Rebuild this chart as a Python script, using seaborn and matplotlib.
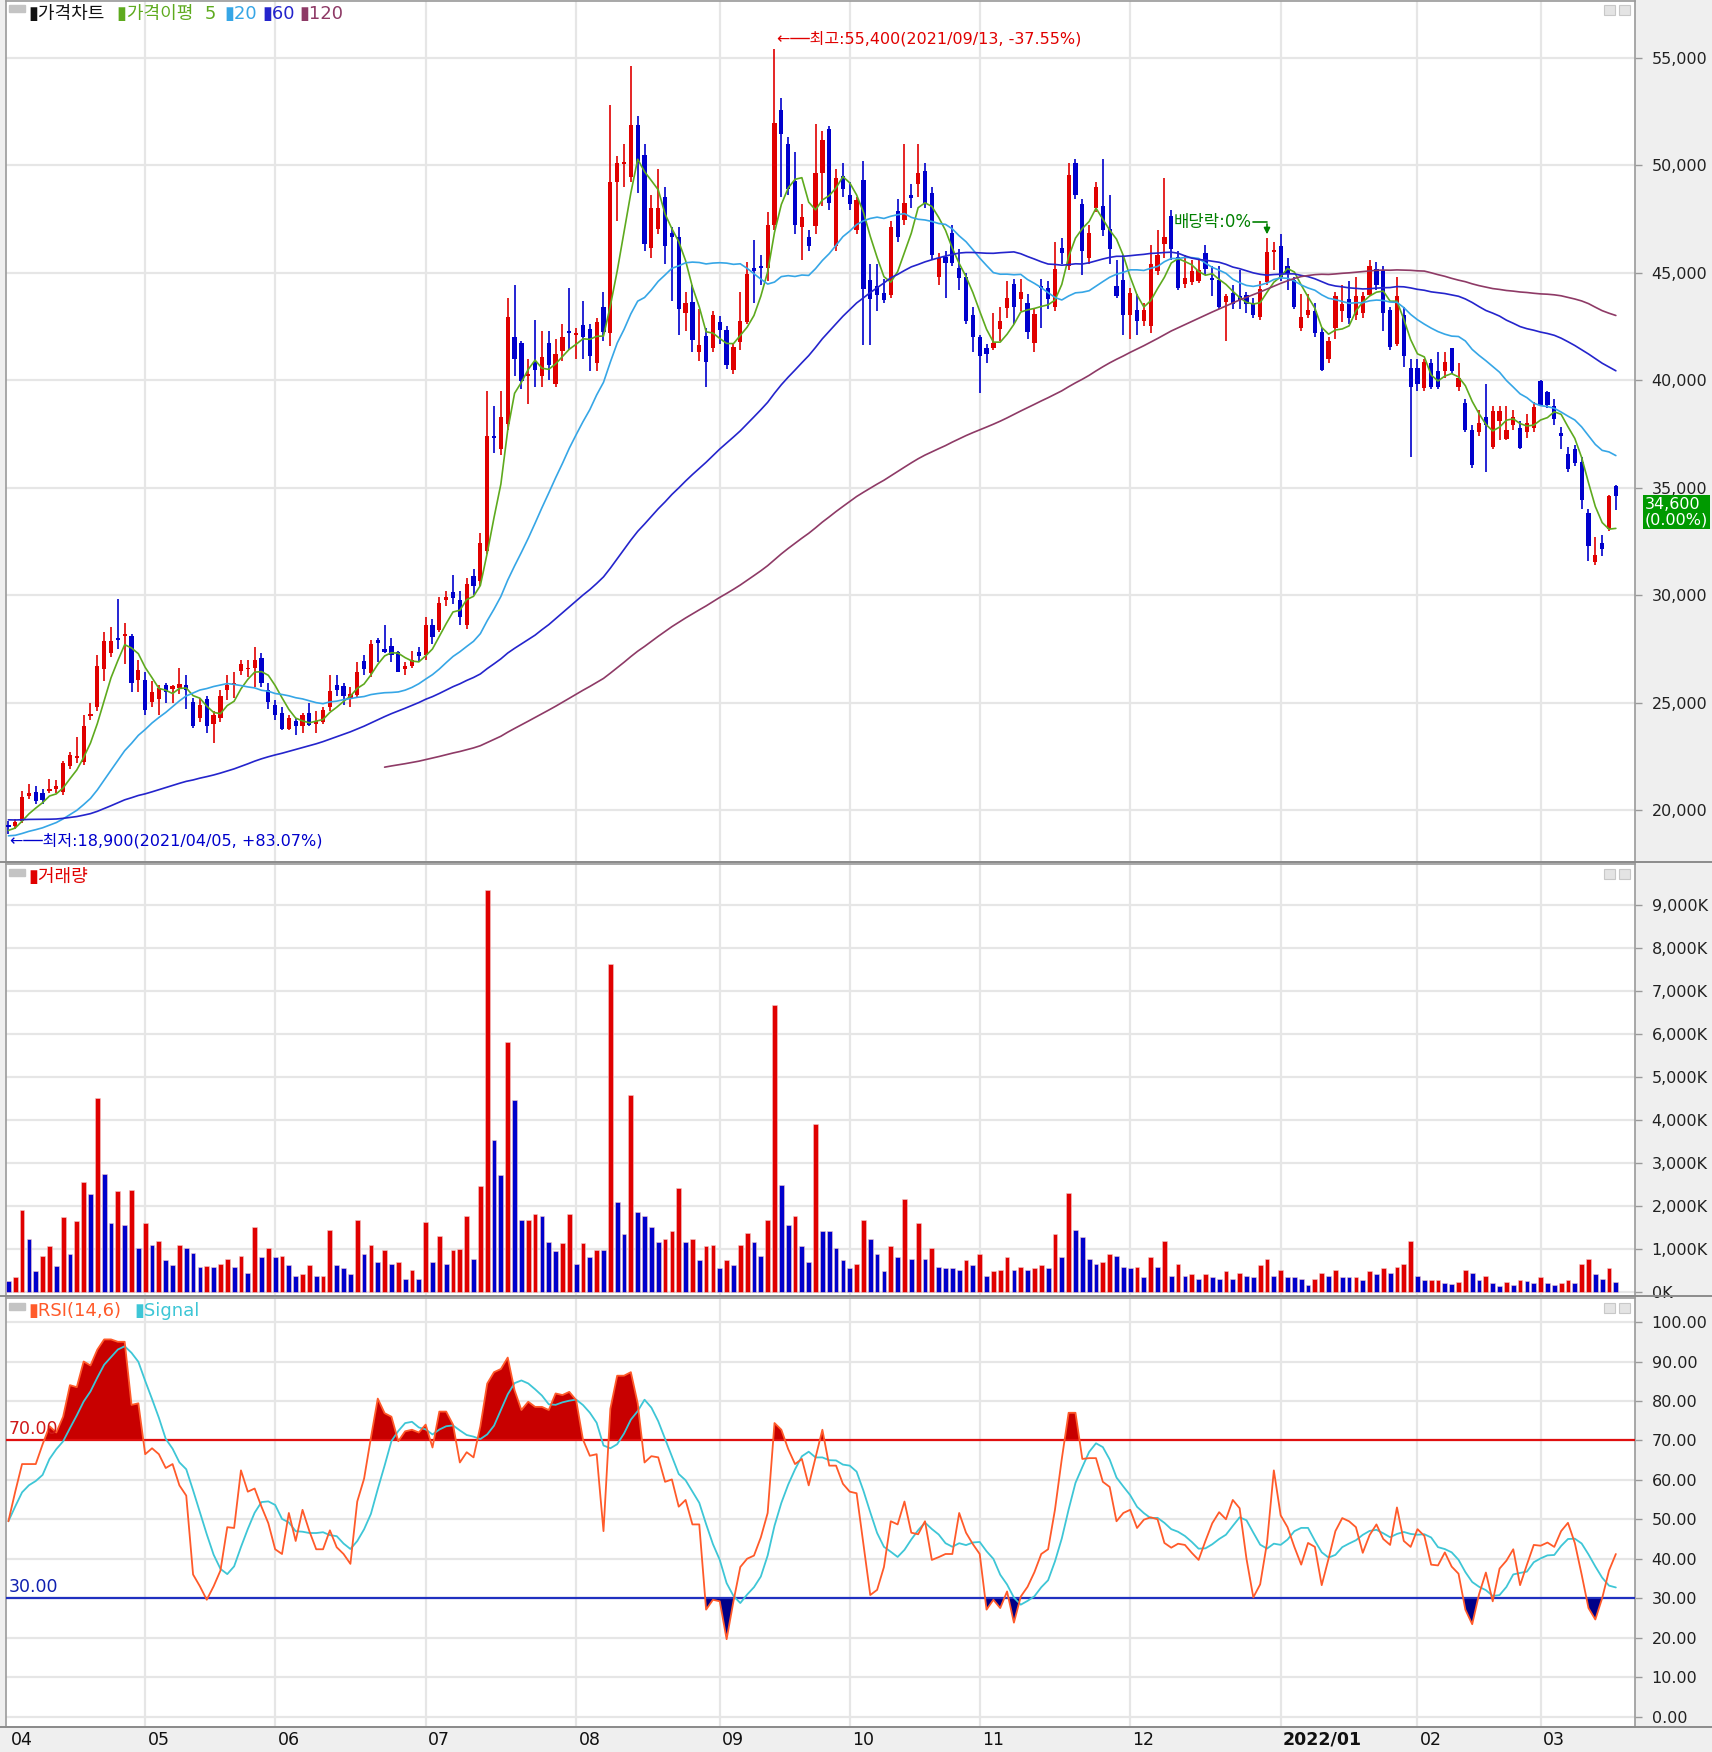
import numpy as np
import pandas as pd
import matplotlib
matplotlib.use("Agg")
import matplotlib.pyplot as plt
import matplotlib.transforms as mtransforms
from matplotlib.patches import Rectangle
import seaborn as sns

#### DATA ####
# KRX trading days, 2021/04/05 - 2022/03/18
holidays = ["2021-05-05", "2021-05-19", "2021-08-16", "2021-09-20", "2021-09-21",
            "2021-09-22", "2021-10-04", "2021-10-11", "2021-12-31", "2022-01-31",
            "2022-02-01", "2022-02-02", "2022-03-01", "2022-03-09"]
dates = pd.bdate_range("2021-04-05", "2022-03-18", freq="C", holidays=holidays)

# closes before the visible window (only used to warm up the moving averages)
prior_close = [20300, 20450, 20200, 20000, 20150, 19900, 19800, 20050, 20250, 20400,
               20600, 20500, 20350, 20100, 19950, 20000, 20200, 20300, 20150, 19900,
               19750, 19850, 20050, 20200, 20100, 19900, 19700, 19600, 19800, 19950,
               20100, 20000, 19850, 19700, 19800, 19950, 20050, 19900, 19750, 19600,
               19500, 19400, 19300, 19250,
               19100, 19000, 18900, 18800, 18850, 18700, 18600, 18650, 18750, 18600,
               18500, 18550, 18700, 18800, 18650, 18700, 18900, 19000, 19100, 19050]

opens = [19300, 19250, 19500, 20650, 20830, 20800, 20900, 21000, 20830, 22050,
         22400, 22250, 24350, 24780, 26570, 27300, 28000, 28100, 28100, 26060,
         26060, 25040, 25170, 25800, 25650, 25680, 25800, 25040, 24270, 25170,
         24020, 24270, 25600, 25850, 26450, 26550, 26620, 27060, 25600, 24900,
         24530, 23760, 24150, 23900, 24530, 24000, 24080, 24780, 25800, 25750,
         25170, 25340, 26950, 26360, 27900, 27480, 27640, 27330, 26550, 26700,
         27330, 27200, 28600, 28350, 29780, 30140, 29750, 28600, 30900, 30650,
         32050, 37400, 36770, 37960, 41990, 41740, 40200, 40850, 40210, 41740,
         39830, 41360, 42300, 42100, 42560, 42380, 40800, 43400, 42170, 49200,
         50050, 49460, 51860, 50460, 46130, 47020, 48500, 46840, 46640, 43100,
         43650, 41300, 42070, 41480, 42690, 42330, 40470, 41750, 42690, 45200,
         45300, 45230, 47220, 52580, 50990, 49260, 47100, 46640, 47170, 49640,
         51680, 46250, 49470, 48630, 46970, 49310, 44670, 44370, 44040, 43960,
         47860, 47430, 48630, 49130, 49720, 48700, 44800, 45740, 46840, 45230,
         44800, 43010, 41990, 41480, 41480, 42380, 43350, 44470, 43780, 43600,
         41740, 44370, 44290, 43400, 46150, 45310, 50080, 48190, 45690, 47990,
         48120, 47020, 44370, 44670, 43010, 43270, 42760, 42500, 45060, 46330,
         47610, 45740, 44470, 44550, 44620, 45900, 44730, 44670, 43650, 44040,
         43900, 43960, 43600, 42940, 44550, 45970, 46250, 45310, 44670, 42430,
         43020, 43190, 42250, 40980, 42430, 43190, 43780, 43010, 43140, 43960,
         45180, 45130, 43270, 41660, 43020, 40540, 40540, 39630, 40800, 40400,
         40400, 41490, 39700, 38930, 37660, 37600, 38300, 36900, 38100, 37280,
         37920, 37780, 37580, 37780, 39960, 39450, 38800, 37540, 36560, 36800,
         36210, 33830, 31540, 32430, 33070, 35050]

highs = [19500, 19600, 20900, 21200, 21100, 21000, 21450, 21400, 22300, 22700,
         23400, 24400, 25000, 27200, 28300, 28500, 29800, 28700, 28200, 27000,
         26400, 26000, 25800, 25900, 25800, 26600, 26300, 25200, 25200, 25300,
         24600, 25600, 26300, 26400, 27000, 27000, 27600, 27300, 25900, 25100,
         24800, 24400, 24300, 24500, 25000, 24600, 24800, 26300, 26300, 25900,
         25700, 26900, 27200, 27900, 28000, 28600, 28000, 27400, 26900, 27400,
         27600, 29000, 28900, 29900, 30200, 30950, 30200, 30800, 31200, 32900,
         39500, 38800, 39500, 43800, 44400, 41800, 41000, 42800, 42300, 42300,
         41900, 42600, 44300, 42400, 43700, 42600, 42900, 44100, 52800, 50400,
         51000, 54600, 52300, 51000, 48600, 49800, 49000, 47100, 47100, 44100,
         44400, 43300, 42400, 43200, 43000, 42500, 41700, 44100, 45500, 46500,
         45800, 47800, 55400, 53100, 51300, 50600, 48200, 47000, 51900, 51600,
         51800, 49800, 50100, 49200, 48500, 50200, 45400, 45400, 44700, 47400,
         48400, 51000, 49100, 51000, 50100, 49000, 45900, 46000, 47200, 46100,
         45000, 43400, 42100, 41700, 43100, 43400, 44600, 44700, 44700, 44000,
         43300, 44700, 44600, 46400, 46600, 50100, 50300, 48400, 47200, 49200,
         50300, 48600, 45600, 45800, 44300, 44000, 43600, 46300, 47000, 49400,
         47900, 46000, 45800, 45600, 45600, 46300, 45300, 45300, 44000, 44400,
         45100, 44100, 43800, 44600, 46600, 46400, 46800, 45700, 44800, 44000,
         44000, 43600, 42400, 42000, 44100, 44400, 44600, 44800, 44100, 45600,
         45500, 45300, 43400, 44800, 43400, 41000, 41000, 41000, 41000, 41300,
         41300, 41500, 40800, 39100, 37900, 38600, 39800, 38800, 38800, 38800,
         38600, 38100, 38400, 39000, 40000, 39500, 39100, 37800, 36900, 37000,
         36400, 34000, 32700, 32800, 34650, 35100]

lows = [18900, 19100, 19400, 20500, 20300, 20300, 20800, 20800, 20700, 21900,
        22200, 22100, 24200, 24600, 26000, 27100, 27500, 26800, 25500, 25500,
        24400, 24800, 24400, 25000, 25000, 25400, 24700, 23800, 24100, 23600,
        23100, 24100, 25100, 25200, 26300, 26200, 25700, 25700, 24700, 24200,
        23700, 23700, 23500, 23600, 23900, 23600, 24000, 24600, 25300, 24900,
        24800, 25200, 26300, 26200, 26900, 27300, 26900, 26400, 26300, 26600,
        26900, 27000, 27700, 28300, 29500, 29600, 28600, 28400, 30000, 30400,
        31900, 36600, 36500, 37700, 40200, 39600, 38900, 39700, 39700, 40000,
        39700, 40900, 41400, 41000, 41000, 40400, 40400, 41800, 41600, 47400,
        49000, 49200, 48700, 46000, 45700, 46800, 45400, 43700, 42100, 42300,
        41300, 40900, 39700, 41300, 41700, 40500, 40300, 41400, 42600, 43600,
        44400, 44600, 47000, 48500, 48600, 46800, 45600, 46000, 46800, 48100,
        47900, 46000, 48500, 47900, 46800, 41650, 41650, 43200, 43600, 43800,
        46400, 47200, 48000, 48500, 48000, 45600, 44400, 43800, 45300, 44200,
        42600, 41300, 39400, 40800, 41400, 41800, 42900, 42600, 43200, 41900,
        41300, 42400, 43300, 43200, 45400, 45100, 48400, 44900, 45400, 47800,
        46700, 45400, 43800, 42100, 41900, 42100, 42500, 42200, 44900, 45700,
        45600, 44200, 44300, 44400, 44500, 44900, 43900, 43300, 41800, 43300,
        43300, 43100, 42900, 42800, 44400, 45100, 44600, 44200, 43300, 42300,
        42900, 42000, 40400, 40800, 41900, 42700, 42600, 42800, 42900, 43900,
        44200, 42300, 41400, 41600, 40600, 36400, 39500, 39500, 39600, 39600,
        40100, 40300, 39500, 37600, 35900, 37400, 35700, 36800, 37200, 37200,
        37700, 36800, 37300, 37600, 38800, 38700, 37900, 36800, 35700, 36000,
        34000, 31600, 31400, 31800, 33000, 33950]

closes = [19200, 19450, 20600, 20800, 20400, 20450, 21000, 21100, 22180, 22540,
          22500, 23900, 24450, 26700, 27850, 27850, 27900, 28150, 25930, 26520,
          24660, 25500, 25680, 25500, 25750, 25850, 25600, 23900, 24900, 23900,
          24400, 25300, 25800, 25900, 26780, 26600, 26980, 25930, 25040, 24400,
          23760, 24270, 23900, 24400, 23950, 24150, 24650, 25550, 25600, 25300,
          25400, 26440, 26570, 27720, 27750, 27350, 27200, 26440, 26700, 26960,
          27150, 28600, 28050, 29630, 29900, 29880, 29000, 30520, 30400, 32430,
          37400, 37300, 38300, 42940, 40980, 39960, 40300, 40460, 41050, 40720,
          41230, 41990, 42180, 42200, 42000, 41100, 42690, 42250, 49210, 50080,
          50130, 51860, 50080, 46330, 47990, 47990, 46250, 46640, 43320, 43580,
          41870, 41610, 40850, 43010, 42330, 40720, 41560, 42760, 44930, 45050,
          45200, 47220, 51940, 51430, 48880, 47220, 47600, 46250, 49640, 51170,
          48240, 49390, 48880, 48190, 48370, 44220, 43780, 43960, 43710, 47100,
          46660, 48240, 48450, 49640, 48240, 45820, 45690, 45440, 45440, 44730,
          42760, 41990, 41100, 41230, 41740, 42760, 43830, 43400, 44090, 42250,
          43090, 44290, 43780, 45180, 45900, 49520, 48630, 46000, 46840, 48980,
          46970, 46080, 43900, 43010, 44040, 42760, 43270, 45390, 45820, 46660,
          46080, 44290, 44730, 45050, 45130, 45180, 44650, 43400, 43900, 43530,
          43710, 43530, 43010, 44220, 45950, 46050, 44800, 44930, 43400, 42940,
          43270, 42180, 40460, 41820, 43910, 43520, 42890, 43910, 43910, 45310,
          44420, 43140, 41560, 43910, 41100, 39700, 39830, 40850, 39700, 39700,
          40850, 40400, 40080, 37660, 36050, 37990, 37920, 38550, 38550, 37660,
          38300, 36820, 37990, 38750, 38850, 38860, 38170, 37400, 35870, 36130,
          34420, 32300, 31870, 32130, 34600, 34600]

# volume, thousands of shares
volume_k = [263, 343, 1913, 1235, 486, 845, 1060, 598, 1737, 877,
            1658, 2558, 2280, 4500, 2742, 1594, 2343, 1562, 2375, 1020,
            1594, 1092, 1195, 733, 622, 1092, 1020, 909, 590, 600,
            580, 661, 765, 590, 845, 446, 1522, 805, 1020, 805,
            845, 630, 375, 414, 630, 375, 380, 1450, 630, 558,
            414, 1666, 877, 1092, 701, 988, 661, 701, 303, 518,
            303, 1634, 701, 1307, 661, 988, 1000, 1777, 773, 2455,
            9350, 3531, 2710, 5818, 4468, 1666, 1680, 1809, 1777, 1164,
            948, 1132, 1809, 661, 1132, 805, 988, 980, 7636, 2096,
            1347, 4571, 1849, 1777, 1522, 1164, 1235, 1419, 2423, 1164,
            1235, 733, 1060, 1092, 558, 733, 630, 1092, 1379, 1164,
            845, 1666, 6675, 2487, 1562, 1777, 1060, 701, 3900, 1419,
            1410, 1020, 733, 558, 661, 1666, 1235, 877, 486, 1060,
            805, 2168, 773, 1594, 773, 1020, 590, 558, 550, 518,
            733, 630, 877, 375, 486, 518, 805, 518, 590, 518,
            558, 630, 558, 1347, 805, 2311, 1450, 1275, 773, 661,
            701, 877, 845, 590, 558, 590, 343, 805, 590, 1195,
            375, 661, 375, 414, 303, 414, 343, 303, 486, 303,
            446, 375, 343, 630, 773, 375, 518, 343, 340, 303,
            159, 303, 446, 375, 518, 343, 340, 345, 271, 486,
            414, 558, 446, 590, 661, 1195, 375, 271, 275, 280,
            199, 195, 231, 518, 446, 271, 375, 199, 128, 231,
            159, 271, 265, 199, 343, 199, 159, 199, 271, 199,
            661, 773, 414, 303, 558, 231]

rsi = [49.5, 57, 64, 64, 64, 69, 73.6, 72, 76, 84,
       83.5, 90, 89, 93, 95.6, 95.6, 95, 95, 79, 79.4,
       66.5, 68, 66.5, 63, 64, 58.6, 56, 36, 33, 29.6,
       33, 37, 48, 47.8, 62.4, 57, 57.8, 53.2, 49, 42.4,
       41.2, 51.6, 44.5, 52.4, 47, 42.4, 42.4, 47.2, 42.9, 41.2,
       38.7, 54.5, 60.3, 70.7, 80.6, 76.9, 76, 69.8, 72.3, 72.7,
       72, 74, 68.2, 77.3, 77.3, 74, 64.4, 67, 65.7, 73.6,
       84.4, 87.3, 88.1, 91, 82.7, 77.7, 79.8, 78.5, 78.5, 77.7,
       81.9, 81.5, 82.3, 80.2, 70.2, 66.1, 66.5, 47, 78, 86.4,
       86.4, 87.3, 79.4, 64.4, 66, 65.7, 59.5, 60.1, 53.2, 54.9,
       48.7, 48.7, 27.1, 29.6, 29.2, 19.6, 29.2, 37.9, 40, 40.8,
       45.4, 51.6, 74.4, 72.7, 67.8, 64, 65.3, 58.6, 65.7, 72.7,
       63.6, 63.6, 59, 57, 56.6, 43.7, 30.8, 32.1, 37.9, 49.5,
       48.7, 54.5, 46.6, 46.2, 49.5, 39.7, 40.4, 41.2, 41.2, 51.6,
       46.6, 43.7, 41.2, 27.1, 29.6, 27.5, 31.7, 23.8, 30.4, 32.9,
       36.6, 41.2, 42.4, 52.4, 65.3, 77, 77, 65.3, 65.5, 65.5,
       59.5, 58.2, 49.5, 51.6, 52.4, 47.8, 49.9, 50.5, 50, 44,
       42.8, 43.8, 43.5, 41.5, 39.7, 44.5, 49, 51.8, 50, 54.9,
       52.8, 40, 30.2, 33.5, 44, 62.4, 51, 48, 43, 38.5,
       44, 43, 33.3, 40, 47, 50.3, 49.5, 48, 41.5, 46,
       48.7, 45, 43.5, 53, 44.5, 43, 47.5, 45.8, 38.5, 38.3,
       41.6, 38, 36.2, 27.1, 23.4, 31, 36.5, 29.2, 37.5, 39.5,
       42.4, 33.3, 38.5, 43.5, 43.3, 44.1, 43, 47, 49.1, 44,
       36, 27.5, 24.6, 30, 37, 41.2]

month_labels = ["04", "05", "06", "07", "08", "09", "10", "11", "12", "2022/01", "02", "03"]

ma_windows = [5, 20, 60, 120]
ma_colors = ["#5EAA1E", "#36A6E6", "#2424CC", "#8E3A66"]

#### SET UP ####
sns.set_style("white")
plt.rcParams["font.family"] = ["Noto Sans CJK KR", "DejaVu Sans"]
LATIN_FIRST = ["DejaVu Sans", "Noto Sans CJK KR"]

df = pd.DataFrame({"date": dates, "open": opens, "high": highs, "low": lows,
                   "close": closes, "volume": volume_k, "rsi": rsi})
df["x"] = np.arange(len(df))
df["signal"] = df["rsi"].rolling(6, min_periods=1).mean()

all_close = pd.Series(prior_close + closes, dtype=float)
for w in ma_windows:
    df["ma%d" % w] = all_close.rolling(w).mean().iloc[len(prior_close):].to_numpy()

RED, BLUE = "#E00000", "#0000CC"
up = df["close"] >= df["open"]
candle_colors = np.where(up, RED, BLUE)
vol_up = df["volume"].diff().fillna(-1) >= 0
vol_colors = np.where(vol_up, RED, BLUE)

month_pos = df.groupby(df["date"].dt.to_period("M"))["x"].min().to_numpy()

W, H = 1712, 1752
fig = plt.figure(figsize=(W / 100, H / 100), dpi=100, facecolor="#EFEFEF")


def px_axes(x0, y0, x1, y1):
    return fig.add_axes([x0 / W, 1 - y1 / H, (x1 - x0) / W, (y1 - y0) / H])


ax_p = px_axes(6, 1, 1635, 862)
ax_v = px_axes(6, 864, 1635, 1296)
ax_r = px_axes(6, 1298, 1635, 1727)

GRID = "#E6E6E6"
for ax in (ax_p, ax_v, ax_r):
    ax.set_facecolor("white")
    ax.set_xlim(-0.35, 237.8)
    ax.set_xticks([])
    for m in month_pos[1:]:
        ax.axvline(m, color=GRID, lw=1.6, zorder=0)
    for s in ax.spines.values():
        s.set_color("#9A9A9A")
        s.set_linewidth(1.2)
    ax.yaxis.tick_right()
    ax.tick_params(axis="y", length=5, width=1, color="#9A9A9A", labelsize=11.5,
                   labelcolor="#222222", pad=7)

# separators across the right strip
for yy in (862, 1296, 1727):
    fig.add_artist(plt.Line2D([0, 1], [1 - yy / H] * 2, color="#8C8C8C", lw=1.4))

#### PRICE ####
price_ticks = list(range(20000, 55001, 5000))
for t in price_ticks:
    ax_p.axhline(t, color=GRID, lw=1.6, zorder=0)
ax_p.set_ylim(17581, 57633)
ax_p.set_yticks(price_ticks)
ax_p.set_yticklabels(["{:,}".format(t) for t in price_ticks], family="DejaVu Sans")

ax_p.vlines(df["x"], df["low"], df["high"], colors=candle_colors, lw=1.2, zorder=3)
body = np.maximum((df["close"] - df["open"]).abs(), 70)
ax_p.bar(df["x"], body, bottom=np.minimum(df["open"], df["close"]), width=0.62,
         color=candle_colors, linewidth=0, zorder=3)

for w, c in zip(ma_windows, ma_colors):
    sns.lineplot(data=df, x="x", y="ma%d" % w, ax=ax_p, color=c, lw=1.2, zorder=4,
                 legend=False)
ax_p.set_xlabel("")
ax_p.set_ylabel("")

hi_i = int(df["high"].idxmax())
lo_i = int(df["low"].idxmin())
hi_v, lo_v = df["high"].max(), df["low"].min()
last_c = df["close"].iloc[-1]
ax_p.text(hi_i + 0.3, hi_v + 480,
          "←──최고:{:,}({}, {:.2f}%)".format(hi_v, df["date"][hi_i].strftime("%Y/%m/%d"),
                                             (last_c / hi_v - 1) * 100),
          color=RED, fontsize=11.5, va="center", ha="left", family=LATIN_FIRST, zorder=6)
ax_p.text(lo_i + 0.2, lo_v - 330,
          "←──최저:{:,}({}, +{:.2f}%)".format(lo_v, df["date"][lo_i].strftime("%Y/%m/%d"),
                                              (last_c / lo_v - 1) * 100),
          color=BLUE, fontsize=11.5, va="center", ha="left", family=LATIN_FIRST, zorder=6)

# ex-dividend marker
exd = 184
ax_p.text(170.4, 47370, "배당락:0%", color="#008000", fontsize=12, va="center", ha="left",
          family=LATIN_FIRST, zorder=6)
ax_p.plot([181.9, exd], [47370, 47370], color="#008000", lw=1.2, zorder=6)
ax_p.annotate("", xy=(exd, 46650), xytext=(exd, 47390),
              arrowprops=dict(arrowstyle="-|>", color="#008000", lw=1.2, mutation_scale=9),
              zorder=6)

# current price tag (sits just under the 35,000 label)
chg = (df["close"].iloc[-1] / df["close"].iloc[-2] - 1) * 100
ax_p.text(1.006, 34560, "{:,}\n({:.2f}%)".format(last_c, chg),
          transform=mtransforms.blended_transform_factory(ax_p.transAxes, ax_p.transData),
          color="white", fontsize=11.5, va="top", ha="left", linespacing=1.0,
          family="DejaVu Sans", clip_on=False, zorder=10,
          bbox=dict(boxstyle="square,pad=0.1", fc="#009A00", ec="none"))

#### VOLUME ####
vol_ticks = list(range(0, 9001, 1000))
for t in vol_ticks:
    ax_v.axhline(t, color=GRID, lw=1.6, zorder=0)
ax_v.bar(df["x"], df["volume"], width=0.7, color=vol_colors, edgecolor="#F4C8C8",
         linewidth=0.4, zorder=3)
ax_v.set_ylim(-93, 9953)
ax_v.set_yticks(vol_ticks)
ax_v.set_yticklabels(["{:,}K".format(t) for t in vol_ticks], family="DejaVu Sans")

#### RSI ####
rsi_ticks = list(range(0, 101, 10))
for t in rsi_ticks:
    ax_r.axhline(t, color=GRID, lw=1.6, zorder=0)
ax_r.set_ylim(-2.66, 106.1)
ax_r.set_yticks(rsi_ticks)
ax_r.set_yticklabels(["{:.2f}".format(t) for t in rsi_ticks], family="DejaVu Sans")

ax_r.fill_between(df["x"], df["rsi"], 70, where=df["rsi"] > 70, interpolate=True,
                  color="#C80000", lw=0, zorder=2)
ax_r.fill_between(df["x"], df["rsi"], 30, where=df["rsi"] < 30, interpolate=True,
                  color="#000088", lw=0, zorder=2)
ax_r.axhline(70, color="#E01010", lw=1.6, zorder=3)
ax_r.axhline(30, color="#2030C0", lw=1.6, zorder=3)
sns.lineplot(data=df, x="x", y="signal", ax=ax_r, color="#3EC6D6", lw=1.3, zorder=4, legend=False)
sns.lineplot(data=df, x="x", y="rsi", ax=ax_r, color="#FF5A2A", lw=1.3, zorder=5, legend=False)
ax_r.set_xlabel("")
ax_r.set_ylabel("")
ax_r.set_xticks([])
ax_r.text(0.0, 70.5, "70.00", color="#D01818", fontsize=12.5, va="bottom", ha="left",
          family="DejaVu Sans", zorder=6)
ax_r.text(0.0, 30.5, "30.00", color="#1020B0", fontsize=12.5, va="bottom", ha="left",
          family="DejaVu Sans", zorder=6)

# month labels under the RSI panel
btrans = mtransforms.blended_transform_factory(ax_r.transData, ax_r.transAxes)
for pos, lab in zip(month_pos, month_labels):
    ax_r.text(pos + 0.35, -0.03, lab, transform=btrans, fontsize=12.5, va="center",
              ha="left", color="#111111", family="DejaVu Sans",
              fontweight="bold" if "/" in lab else "normal", clip_on=False)


#### PANEL HEADERS ####
def ftext(x, y, s, color, **kw):
    fig.text(x / W, 1 - y / H, s, color=color, fontsize=13, va="center", ha="left",
             family=LATIN_FIRST, **kw)


for y0 in (5, 869, 1303):
    fig.add_artist(Rectangle((9 / W, 1 - (y0 + 7) / H), 16 / W, 7 / H, color="#C4C4C4",
                             transform=fig.transFigure))
    for x0 in (1604, 1619):
        fig.add_artist(Rectangle((x0 / W, 1 - (y0 + 10) / H), 11 / W, 10 / H, fc="#E4E4E4",
                                 ec="#C8C8C8", lw=0.8, transform=fig.transFigure))

ftext(28, 14, "▮가격차트", "#111111")
ftext(117, 14, "▮가격이평  5", ma_colors[0])
ftext(224, 14, "▮20", ma_colors[1])
ftext(262, 14, "▮60", ma_colors[2])
ftext(299, 14, "▮120", ma_colors[3])
ftext(28, 877, "▮거래량", RED)
ftext(28, 1311, "▮RSI(14,6)", "#FF5A2A")
ftext(134, 1311, "▮Signal", "#3EC6D6")

plt.savefig("out.png", dpi=100, facecolor=fig.get_facecolor())
